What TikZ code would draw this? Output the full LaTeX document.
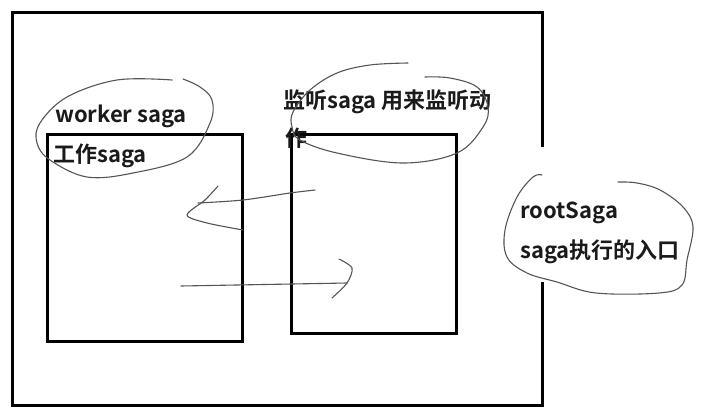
\documentclass[tikz,border=0pt]{standalone}
\usepackage{fontspec}
\newfontfamily\cjk{Noto Sans CJK SC}[BoldFont={Noto Sans CJK SC Bold}]
\definecolor{ink}{HTML}{1A1A1A}
\definecolor{pen}{HTML}{555555}
\tikzset{
  box/.style={draw=black, line width=3pt},
  lbl/.style={anchor=base west, inner sep=0pt, font=\cjk\bfseries\fontsize{22}{25}\selectfont, text=ink},
  hand/.style={draw=pen, line width=1.1pt, line cap=round, line join=round},
}
\begin{document}
\begin{tikzpicture}[x=1pt,y=-1pt]
\useasboundingbox[fill=white] (0,0) rectangle (703,418);
% outer frame with gap on the right side
\coordinate (oa) at (542,147);
\coordinate (ob) at (542,282);
\draw[box] (oa) -- (542,12) -- (12,12) -- (12,405) -- (542,405) -- (ob);
% inner boxes
\node[box, minimum width=195pt, minimum height=207pt, inner sep=0pt, anchor=north west] (worker) at (46,133) {};
\node[box, minimum width=165pt, minimum height=199pt, inner sep=0pt, anchor=north west] (listen) at (290,133) {};
% labels
\node[lbl] (t1) at (55,122) {worker saga};
\node[lbl] (t2) at (53,162) {工作saga};
\node[lbl] (t3) at (283,108) {监听saga 用来监听动};
\node[lbl] (t4) at (285,146) {作};
\node[lbl] (t5) at (520,218) {rootSaga};
\node[lbl] (t6) at (520,258) {saga执行的入口};
% hand-drawn loops
\draw[hand] plot[smooth, tension=0.6] coordinates {(172,80) (117,80) (67,97) (40,123) (37,143) (50,160) (87,177) (133,173) (187,157) (210,123) (212,100) (200,87) (183,79)};
\draw[hand] plot[smooth, tension=0.6] coordinates {(408,63) (370,65) (337,73) (310,90) (293,112) (292,127) (300,140) (337,153) (403,163) (457,153) (483,127) (488,107) (477,87) (450,78) (425,77)};
\draw[hand] plot[smooth, tension=0.6] coordinates {(542,175) (533,177) (517,197) (505,230) (507,257) (527,273) (557,282) (596,293) (659,293) (682,285) (687,260) (693,227) (683,207) (660,190) (637,183) (618,182)};
% hand-drawn arrows
\coordinate (a1s) at (315,190);
\coordinate (a1e) at (198,203);
\draw[hand] plot[smooth, tension=0.5] coordinates {(a1s) (290,193) (243,200) (a1e)};
\draw[hand] plot[smooth, tension=0.5] coordinates {(218,186) (205,200) (187,215) (207,223) (243,230)};
\coordinate (a2s) at (181,286);
\coordinate (a2e) at (347,283);
\draw[hand] (a2s) -- (a2e);
\draw[hand] plot[smooth, tension=0.5] coordinates {(339,259) (352,268) (347,283) (332,298)};
\end{tikzpicture}
\end{document}
